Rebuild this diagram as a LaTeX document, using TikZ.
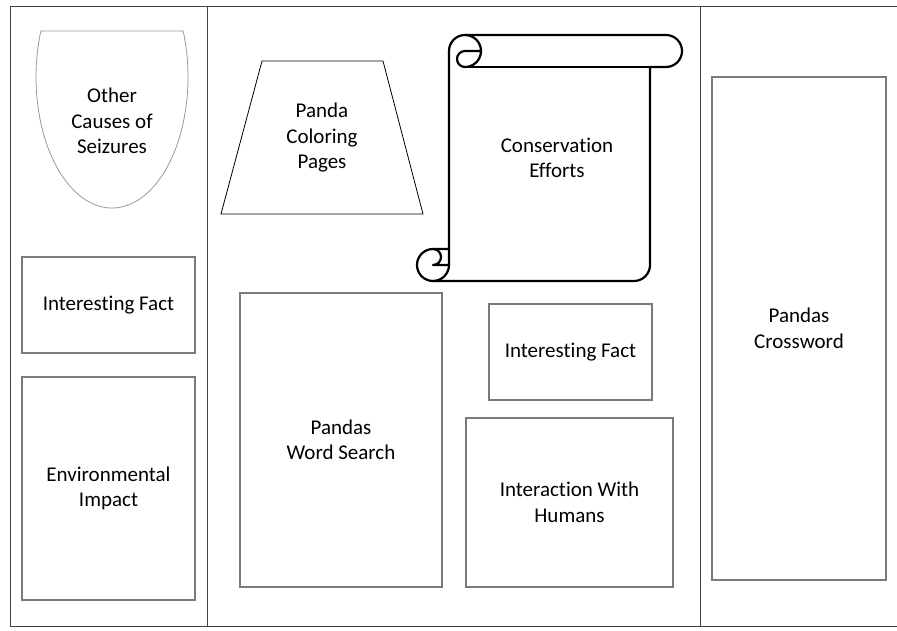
\documentclass[tikz,border=0pt]{standalone}
\usepackage{fontspec}
\setmainfont{Carlito}[Ligatures={NoCommon}]
\newcommand\mainfnt{\fontsize{21}{25.5}\selectfont}
\definecolor{boxgray}{HTML}{7A7A7A}
\definecolor{divgray}{HTML}{404040}
\definecolor{shieldgray}{HTML}{9A9A9A}
\tikzset{
  box/.style={draw=boxgray, line width=1.3pt, fill=white, align=center, font=\mainfnt, inner sep=0pt},
  lbl/.style={align=center, font=\mainfnt, inner sep=0pt},
  divider/.style={draw=divgray, line width=0.9pt},
  scrollline/.style={draw=black, line width=2.2pt, line join=round, line cap=round},
}
\begin{document}
\begin{tikzpicture}[x=1pt,y=-1pt]
\useasboundingbox (0,0) rectangle (897,630);
% frame
\coordinate (ftl) at (10,6);
\coordinate (ftr) at (897,6);
\coordinate (fbl) at (10,626);
\coordinate (fbr) at (897,626);
\coordinate (d1t) at (207,6);
\coordinate (d1b) at (207,626);
\coordinate (d2t) at (700,6);
\coordinate (d2b) at (700,626);
\draw[divider] (ftr) -- (ftl) -- (fbl) -- (fbr);
\draw[divider] (d1t) -- (d1b);
\draw[divider] (d2t) -- (d2b);

% shield
\draw[draw=shieldgray, line width=0.8pt, fill=white]
  (112,77) ++(-20.56:76 and 131) arc[start angle=-20.56, end angle=200.56, x radius=76, y radius=131] -- cycle;
\node[lbl] (shield) at (112,121) {Other\\Causes of\\Seizures};

% left column boxes
\node[box, minimum width=173pt, minimum height=96pt] (if1) at (108.5,305) {Interesting Fact};
\node[box, minimum width=173pt, minimum height=223pt] (env) at (108.5,488.5) {Environmental\\Impact};

% trapezoid
\draw[draw=black, line width=0.8pt, fill=white] (262,61) -- (383,61) -- (423,214) -- (221,214) -- cycle;
\node[lbl] (color) at (322,138) {Panda\\Coloring\\Pages};

% scroll
\begin{scope}[shift={(417,35)}]
\draw[scrollline, fill=white] (32,214) -- (32,16) arc[start angle=180, end angle=270, radius=16]
  -- (249,0) arc[start angle=270, end angle=450, radius=16]
  -- (233,32) -- (233,230) arc[start angle=0, end angle=90, radius=16]
  -- (16,246) arc[start angle=90, end angle=270, radius=16] -- cycle;
\draw[scrollline] (48,0) arc[start angle=270, end angle=450, radius=16]
  arc[start angle=90, end angle=270, radius=8] -- (64,16);
\draw[scrollline] (233,32) -- (48,32);
\draw[scrollline] (16,214) arc[start angle=270, end angle=450, radius=8] -- (32,230);
\draw[scrollline] (16,246) arc[start angle=90, end angle=0, radius=16] -- (32,214);
\end{scope}
\node[lbl] (cons) at (557,158) {Conservation\\Efforts};

% middle boxes
\node[box, minimum width=202pt, minimum height=294pt] (ws) at (341,440) {Pandas\\Word Search};
\node[box, minimum width=163pt, minimum height=96pt] (if2) at (570.5,352) {Interesting Fact};
\node[box, minimum width=207pt, minimum height=169pt] (hum) at (569.5,502.5) {Interaction With\\Humans};

% right column
\node[box, minimum width=174pt, minimum height=503pt] (cw) at (799,328.5) {Pandas\\Crossword};
\end{tikzpicture}
\end{document}
